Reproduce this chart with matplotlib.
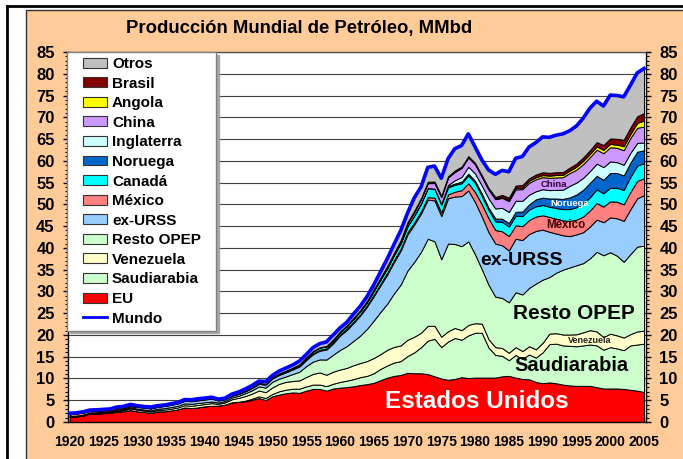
import numpy as np
import matplotlib
matplotlib.use('Agg')
import matplotlib.pyplot as plt
from matplotlib.patches import Patch, Rectangle
from matplotlib.lines import Line2D
from matplotlib.legend_handler import HandlerBase
from matplotlib.ticker import MultipleLocator

plt.rcParams['font.family'] = ['Liberation Sans', 'DejaVu Sans']
plt.rcParams['font.weight'] = 'bold'

years = list(range(1920, 2006))

# MMbd, one value per year 1920..2005
eu = [1.2, 1.3, 1.5, 2.0, 1.95, 2.05, 2.1, 2.45, 2.45, 2.75,
      2.45, 2.3, 2.1, 2.45, 2.45, 2.65, 2.9, 3.35, 3.2, 3.35,
      3.6, 3.7, 3.75, 4.0, 4.5, 4.6, 4.75, 5.1, 5.5, 5.05,
      5.9, 6.3, 6.6, 6.8, 6.7, 7.2, 7.6, 7.6, 7.2, 7.7,
      7.9, 8.0, 8.2, 8.5, 8.7, 9.0, 9.6, 10.2, 10.6, 10.8,
      11.3, 11.2, 11.2, 11.0, 10.5, 10.0, 9.7, 9.9, 10.3, 10.1,
      10.2, 10.2, 10.2, 10.2, 10.5, 10.6, 10.2, 9.9, 9.8, 9.2,
      8.9, 9.1, 8.9, 8.6, 8.4, 8.3, 8.3, 8.3, 8.0, 7.7,
      7.7, 7.7, 7.6, 7.4, 7.2, 6.9]
saudiarabia = [0] * 10 + \
     [0, 0, 0, 0, 0, 0, 0, 0, 0.002, 0.01,
      0.014, 0.012, 0.012, 0.013, 0.02, 0.06, 0.16, 0.25, 0.39, 0.48,
      0.55, 0.76, 0.82, 0.85, 0.96, 0.97, 1.0, 1.0, 1.05, 1.1,
      1.3, 1.5, 1.65, 1.8, 1.9, 2.2, 2.6, 2.8, 3.05, 3.2,
      3.85, 4.8, 6.0, 7.7, 8.6, 7.2, 8.8, 9.4, 8.6, 9.8,
      10.3, 10.3, 6.9, 5.2, 4.7, 3.6, 5.2, 4.6, 5.7, 5.6,
      7.1, 8.8, 9.1, 9.0, 9.1, 9.1, 9.3, 9.5, 9.6, 8.9,
      9.5, 9.2, 8.9, 10.2, 10.6, 11.1]
venezuela = [0.001, 0.004, 0.006, 0.012, 0.025, 0.055, 0.1, 0.17, 0.29, 0.37,
             0.37, 0.32, 0.32, 0.32, 0.37, 0.41, 0.42, 0.51, 0.52, 0.56,
             0.51, 0.62, 0.41, 0.49, 0.71, 0.89, 1.06, 1.19, 1.34, 1.32,
             1.5, 1.7, 1.8, 1.77, 1.9, 2.16, 2.46, 2.78, 2.6, 2.77,
             2.85, 2.92, 3.2, 3.25, 3.4, 3.5, 3.4, 3.6, 3.6, 3.6,
             3.75, 3.6, 3.3, 3.4, 3.0, 2.4, 2.35, 2.3, 2.2, 2.4,
             2.2, 2.1, 1.9, 1.8, 1.8, 1.7, 1.8, 1.8, 1.9, 1.9,
             2.2, 2.4, 2.4, 2.5, 2.6, 2.75, 3.0, 3.3, 3.2, 2.9,
             3.1, 3.0, 2.9, 2.6, 3.0, 3.0]
resto_opep = [0.08, 0.09, 0.1, 0.11, 0.13, 0.16, 0.17, 0.2, 0.22, 0.25,
              0.24, 0.24, 0.25, 0.28, 0.35, 0.37, 0.38, 0.42, 0.45, 0.45,
              0.42, 0.36, 0.3, 0.3, 0.4, 0.48, 0.65, 0.75, 0.95, 1.05,
              1.3, 1.2, 1.25, 1.6, 2.0, 2.5, 2.8, 3.0, 3.5, 3.9,
              4.5, 5.0, 5.6, 6.3, 7.4, 8.6, 9.7, 10.6, 12.3, 14.0,
              15.9, 17.2, 18.6, 20.0, 19.4, 17.8, 20.15, 19.3, 19.3, 19.2,
              15.8, 12.5, 12.5, 11.6, 11.5, 11.6, 12.6, 13.0, 13.4, 15.1,
              14.5, 13.0, 13.9, 14.9, 15.4, 15.85, 15.9, 16.5, 18.3, 18.8,
              18.7, 18.3, 17.4, 18.4, 19.5, 19.5]
ex_urss = [0.07, 0.07, 0.09, 0.1, 0.13, 0.14, 0.17, 0.21, 0.23, 0.28,
           0.37, 0.45, 0.43, 0.43, 0.49, 0.51, 0.55, 0.57, 0.6, 0.6,
           0.62, 0.67, 0.45, 0.4, 0.38, 0.4, 0.44, 0.52, 0.6, 0.66,
           0.75, 0.85, 0.95, 1.05, 1.2, 1.4, 1.7, 2.0, 2.3, 2.6,
           3.3, 3.7, 4.1, 4.6, 5.1, 5.6, 6.1, 6.7, 7.2, 7.8,
           8.3, 8.6, 8.8, 9.0, 9.4, 9.9, 10.4, 10.9, 11.5, 11.7,
           12.0, 12.1, 12.1, 12.2, 12.1, 11.9, 12.3, 12.5, 12.4, 12.1,
           11.5, 10.4, 9.0, 7.9, 7.2, 7.1, 7.1, 7.3, 7.4, 7.6,
           8.0, 8.6, 9.4, 10.3, 11.1, 11.6]
mexico = [0.43, 0.53, 0.5, 0.41, 0.38, 0.32, 0.25, 0.18, 0.14, 0.12,
          0.11, 0.09, 0.09, 0.09, 0.1, 0.11, 0.11, 0.13, 0.1, 0.12,
          0.12, 0.12, 0.1, 0.1, 0.1, 0.12, 0.14, 0.15, 0.16, 0.17,
          0.2, 0.21, 0.21, 0.2, 0.23, 0.25, 0.25, 0.24, 0.27, 0.28,
          0.27, 0.29, 0.31, 0.32, 0.32, 0.36, 0.37, 0.41, 0.44, 0.46,
          0.49, 0.49, 0.51, 0.55, 0.65, 0.8, 0.9, 1.1, 1.35, 1.65,
          2.3, 2.8, 3.2, 3.1, 3.2, 3.3, 3.1, 3.2, 3.2, 3.3,
          3.3, 3.4, 3.4, 3.4, 3.5, 3.4, 3.6, 3.7, 3.8, 3.6,
          3.7, 3.8, 3.8, 4.0, 4.0, 3.9]
canada = [0.001] * 10 + \
         [0.003, 0.003, 0.003, 0.003, 0.003, 0.004, 0.004, 0.008, 0.019, 0.021,
          0.023, 0.027, 0.027, 0.027, 0.028, 0.023, 0.021, 0.021, 0.033, 0.058,
          0.08, 0.13, 0.17, 0.22, 0.26, 0.35, 0.47, 0.5, 0.45, 0.5,
          0.52, 0.6, 0.67, 0.71, 0.75, 0.92, 1.0, 1.1, 1.2, 1.3,
          1.47, 1.58, 1.83, 2.1, 2.0, 1.8, 1.6, 1.6, 1.6, 1.8,
          2.1, 1.95, 1.9, 2.0, 2.15, 2.2, 2.2, 2.3, 2.4, 2.35,
          2.35, 2.35, 2.45, 2.6, 2.7, 2.85, 2.95, 3.05, 3.15, 3.05,
          3.15, 3.2, 3.3, 3.45, 3.5, 3.45]
noruega = [0] * 51 + \
          [0.006, 0.03, 0.03, 0.035, 0.19, 0.28, 0.28, 0.36, 0.4,
           0.53, 0.51, 0.53, 0.66, 0.74, 0.8, 0.89, 1.05, 1.2, 1.6,
           1.7, 1.9, 2.2, 2.35, 2.7, 2.9, 3.2, 3.3, 3.1, 3.1,
           3.35, 3.4, 3.33, 3.26, 3.19, 2.97]
inglaterra = [0] * 55 + \
             [0.03, 0.25, 0.77, 1.08, 1.6,
              1.65, 1.85, 2.1, 2.3, 2.5, 2.55, 2.54, 2.46, 2.23, 1.86,
              1.93, 1.92, 1.98, 2.1, 2.67, 2.75, 2.74, 2.7, 2.8, 2.9,
              2.67, 2.48, 2.46, 2.26, 2.03, 1.8]
china = [0] * 35 + \
        [0.02, 0.024, 0.03, 0.045, 0.075,
         0.1, 0.11, 0.12, 0.13, 0.17, 0.23, 0.29, 0.28, 0.3, 0.43,
         0.6, 0.78, 0.9, 1.09, 1.3, 1.54, 1.74, 1.87, 2.08, 2.12,
         2.12, 2.02, 2.04, 2.12, 2.3, 2.5, 2.62, 2.68, 2.73, 2.76,
         2.77, 2.83, 2.85, 2.89, 2.93, 2.99, 3.17, 3.21, 3.21, 3.21,
         3.25, 3.31, 3.35, 3.41, 3.49, 3.63]
angola = [0] * 46 + \
         [0.013, 0.011, 0.015, 0.05,
          0.1, 0.11, 0.14, 0.16, 0.17, 0.16, 0.1, 0.2, 0.13, 0.15,
          0.15, 0.13, 0.13, 0.18, 0.2, 0.23, 0.28, 0.36, 0.45, 0.45,
          0.47, 0.5, 0.55, 0.5, 0.55, 0.65, 0.71, 0.72, 0.73, 0.75,
          0.75, 0.74, 0.9, 0.87, 1.1, 1.4]
brasil = [0] * 30 + \
         [0.001, 0.002, 0.002, 0.003, 0.003, 0.006, 0.011, 0.028, 0.052, 0.065,
          0.08, 0.095, 0.092, 0.098, 0.09, 0.094, 0.116, 0.146, 0.164, 0.174,
          0.167, 0.174, 0.171, 0.171, 0.182, 0.18, 0.172, 0.166, 0.166, 0.17,
          0.19, 0.22, 0.27, 0.34, 0.48, 0.56, 0.59, 0.6, 0.58, 0.63,
          0.65, 0.64, 0.65, 0.67, 0.69, 0.72, 0.81, 0.87, 1.0, 1.13,
          1.27, 1.34, 1.5, 1.55, 1.54, 1.72]
mundo = [2.0, 2.1, 2.35, 2.75, 2.8, 2.9, 3.0, 3.45, 3.6, 4.05,
         3.75, 3.55, 3.45, 3.75, 3.9, 4.2, 4.5, 5.15, 5.1, 5.35,
         5.5, 5.7, 5.25, 5.5, 6.4, 6.9, 7.6, 8.4, 9.4, 9.3,
         10.7, 11.7, 12.4, 13.1, 14.0, 15.5, 17.1, 18.0, 18.4, 20.0,
         21.6, 22.9, 24.8, 26.6, 28.8, 31.5, 34.5, 37.5, 40.8, 44.0,
         48.0, 51.5, 54.0, 58.5, 58.8, 56.0, 60.5, 62.8, 63.5, 66.2,
         63.2, 60.2, 57.9, 56.9, 57.8, 57.5, 60.6, 61.0, 63.2, 64.2,
         65.5, 65.4, 65.9, 66.2, 66.9, 68.0, 69.8, 72.1, 73.7, 72.6,
         75.1, 75.0, 74.7, 77.4, 80.2, 81.2]

names = ['EU', 'Saudiarabia', 'Venezuela', 'Resto OPEP', 'ex-URSS', 'México',
         'Canadá', 'Noruega', 'Inglaterra', 'China', 'Angola', 'Brasil']
series = [eu, saudiarabia, venezuela, resto_opep, ex_urss, mexico,
          canada, noruega, inglaterra, china, angola, brasil]
colors = ['#FF0000', '#CCFFCC', '#FFFFCC', '#CCFFCC', '#99CCFF', '#FF8080',
          '#00FFFF', '#0066CC', '#CCFFFF', '#CC99FF', '#FFFF00', '#800000',
          '#C0C0C0']


class ShiftedHandler(HandlerBase):
    """Legend key drawn in the right part of the handle box (Excel look)."""
    frac = 0.68

    def create_artists(self, legend, orig_handle, xdescent, ydescent,
                       width, height, fontsize, trans):
        w = width * self.frac
        x0 = -xdescent + width - w
        if isinstance(orig_handle, Line2D):
            y = -ydescent + height / 2
            art = Line2D([x0, x0 + w], [y, y], color=orig_handle.get_color(),
                         linewidth=orig_handle.get_linewidth())
        else:
            art = Rectangle((x0, -ydescent), w, height,
                            facecolor=orig_handle.get_facecolor(),
                            edgecolor='#333333', linewidth=0.8)
        art.set_transform(trans)
        return [art]


def main():
    stack = np.array(series)
    # what is left of the world total goes to "Otros"
    otros = np.array(mundo) - stack.sum(axis=0)
    layers = list(stack) + [otros]
    labels = names + ['Otros']

    fig = plt.figure(figsize=(6.83, 4.59), dpi=100)
    fig.patch.set_facecolor('white')
    W, H = 683.0, 459.0
    fig.patches.append(Rectangle((26 / W, -0.01), 1.0, 1 - 10 / H + 0.01,
                                 transform=fig.transFigure, facecolor='#FFCC99',
                                 edgecolor='#333333', linewidth=1, zorder=-2))
    fig.lines.append(Line2D([7 / W, 1], [1 - 6 / H, 1 - 6 / H], color='black',
                            linewidth=2, transform=fig.transFigure, zorder=-1))
    fig.lines.append(Line2D([7 / W, 7 / W], [0, 1 - 6 / H], color='black',
                            linewidth=2, transform=fig.transFigure, zorder=-1))

    ax = fig.add_axes([68 / W, 37 / H, 578 / W, 370 / H])
    ax.set_facecolor('white')
    ax.stackplot(years, *layers, colors=colors, edgecolor='black', linewidth=0.7)
    ax.plot(years, mundo, color='#0000FF', linewidth=2.6, zorder=3)

    ax.set_xlim(1919.75, 2005.3)
    ax.set_ylim(0, 85)
    ax.set_xticks(range(1920, 2006, 5))
    ax.xaxis.set_minor_locator(MultipleLocator(1))
    ax.set_yticks(range(0, 86, 5))
    ax.yaxis.set_minor_locator(MultipleLocator(1))
    ax.set_axisbelow(True)
    ax.yaxis.grid(True, color='#404040', linewidth=0.8)

    ax.tick_params(axis='x', which='major', direction='in', length=4, width=1,
                   pad=9, labelsize=10)
    ax.tick_params(axis='x', which='minor', direction='in', length=2.5, width=0.8)
    ax.tick_params(axis='y', which='major', direction='out', length=3.6, width=1,
                   pad=6, labelsize=12, left=True, right=True,
                   labelleft=True, labelright=True)
    ax.tick_params(axis='y', which='minor', direction='out', length=2.2,
                   width=0.8, left=True, right=True)
    for lab in ax.get_xticklabels() + ax.get_yticklabels():
        lab.set_fontweight('bold')
    for s in ax.spines.values():
        s.set_color('black')
        s.set_linewidth(1)
    ax.spines['top'].set_color('#505050')

    fig.text(299 / W, 1 - 29 / H, 'Producción Mundial de Petróleo, MMbd',
             ha='center', va='center', fontsize=13.3, fontweight='bold')

    # labels inside the areas
    ax.text(1980.2, 4.8, 'Estados Unidos', color='white', fontsize=17.5,
            fontweight='bold', ha='center', va='center')
    ax.text(1994.3, 12.9, 'Saudiarabia', fontsize=14.5, fontweight='bold',
            ha='center', va='center')
    ax.text(1994.6, 24.9, 'Resto OPEP', fontsize=15, fontweight='bold',
            ha='center', va='center')
    ax.text(1986.8, 37.2, 'ex-URSS', fontsize=14, fontweight='bold',
            ha='center', va='center')
    ax.text(1997.0, 18.8, 'Venezuela', fontsize=6.5, fontweight='bold',
            ha='center', va='center', color='#202020')
    ax.text(1993.5, 45.3, 'México', fontsize=8.3, fontweight='bold',
            ha='center', va='center', color='#400000')
    ax.text(1994.0, 50.3, 'Noruega', fontsize=6.8, fontweight='bold',
            ha='center', va='center', color='white')
    ax.text(1991.6, 54.6, 'China', fontsize=6.8, fontweight='bold',
            ha='center', va='center', color='#330033')

    handles = [Patch(facecolor=c) for c in colors]
    mundo_key = Line2D([], [], color='#0000FF', linewidth=2)
    handles = handles[::-1] + [mundo_key]
    leg_labels = labels[::-1] + ['Mundo']
    hm = ShiftedHandler()
    leg = ax.legend(handles, leg_labels, loc='upper left',
                    bbox_to_anchor=(-0.002, 0.0, 0.258, 1.0), mode='expand',
                    borderaxespad=0, fancybox=False,
                    shadow={'color': '#A0A0A0', 'alpha': 0.9},
                    edgecolor='#808080', framealpha=1,
                    prop={'weight': 'bold', 'size': 11},
                    handlelength=2.29, handleheight=0.62, handletextpad=0.33,
                    labelspacing=0.365, borderpad=0.33,
                    handler_map={Patch: hm, Line2D: hm})
    leg.set_zorder(5)

    fig.savefig('out.png', dpi=100)


if __name__ == '__main__':
    main()
